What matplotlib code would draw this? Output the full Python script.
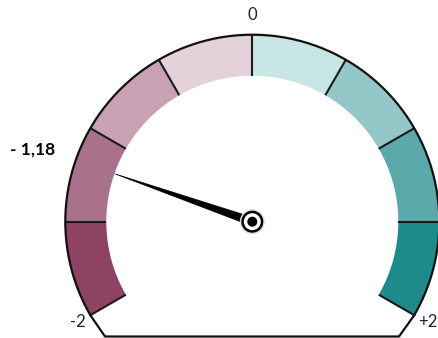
import numpy as np
import matplotlib
matplotlib.use('Agg')
import matplotlib.pyplot as plt
from matplotlib.patches import Wedge, Polygon, Circle

# gauge data
vmin, vmax = -2, 2
value = -1.18
value_label = '- 1,18'
tick_labels = ['-2', '0', '+2']
seg_colors = ['#8F4363', '#A9718A', '#C9A1B3', '#E5D1D9',
              '#C7E5E4', '#93C7C8', '#5AA9AB', '#1E8B8B']

W, H = 438, 338
cx, cy = 252.3, 116.3
r_out, r_in = 187, 146
a_start, a_end = 210, -30  # degrees for vmin / vmax


def val2ang(v):
    return a_start + (v - vmin) / (vmax - vmin) * (a_end - a_start)


fig = plt.figure(figsize=(W / 100, H / 100), dpi=100)
ax = fig.add_axes([0, 0, 1, 1])
ax.set_xlim(0, W)
ax.set_ylim(0, H)
ax.set_aspect('equal')
ax.axis('off')

n = len(seg_colors)
step = (a_start - a_end) / n
for i, c in enumerate(seg_colors):
    t2 = a_start - i * step
    t1 = t2 - step
    ax.add_patch(Wedge((cx, cy), r_out, t1, t2, width=r_out - r_in,
                       facecolor=c, edgecolor='none', zorder=1))

# dividers
for i in range(n + 1):
    t = np.radians(a_start - i * step)
    ax.plot([cx + r_in * np.cos(t), cx + r_out * np.cos(t)],
            [cy + r_in * np.sin(t), cy + r_out * np.sin(t)],
            color='#1a1a1a', lw=1.5, zorder=2, solid_capstyle='butt')

# outer arc
th = np.radians(np.linspace(a_start, a_end, 300))
ax.plot(cx + r_out * np.cos(th), cy + r_out * np.sin(th), color='#111111', lw=1.6, zorder=3)

# base outline
xl = cx + r_out * np.cos(np.radians(a_start))
yl = cy + r_out * np.sin(np.radians(a_start))
xr = cx + r_out * np.cos(np.radians(a_end))
yr = cy + r_out * np.sin(np.radians(a_end))
ax.plot([xl, 105, 399, xr], [yl, 1.5, 1.5, yr], color='#111111', lw=1.6, zorder=3)

# needle
ang = np.radians(val2ang(value))
tip = (cx + 145.6 * np.cos(ang), cy + 145.6 * np.sin(ang))
px, py = -np.sin(ang), np.cos(ang)
hw = 4.2
needle = Polygon([tip, (cx + px * hw, cy + py * hw), (cx - px * hw, cy - py * hw)],
                 closed=True, facecolor='black', edgecolor='black', lw=0.5, zorder=4)
ax.add_patch(needle)

# hub
ax.add_patch(Circle((cx, cy), 12.5, facecolor='#dddddd', edgecolor='none', zorder=5))
ax.add_patch(Circle((cx, cy), 11, facecolor='black', edgecolor='none', zorder=5))
ax.add_patch(Circle((cx, cy), 8.5, facecolor='white', edgecolor='none', zorder=6))
ax.add_patch(Circle((cx, cy), 5, facecolor='black', edgecolor='none', zorder=7))

font = ['Lato', 'DejaVu Sans']
ax.text(252, 323, tick_labels[1], ha='center', va='center', fontsize=12, family=font, color='#222222')
ax.text(78, 16, tick_labels[0], ha='center', va='center', fontsize=12, family=font, color='#222222')
ax.text(428, 16, tick_labels[2], ha='center', va='center', fontsize=12, family=font, color='#222222')
ax.text(33, 188, value_label, ha='center', va='center', fontsize=12.5, family=font,
        fontweight='bold', color='black')

fig.savefig('out.png', dpi=100)
